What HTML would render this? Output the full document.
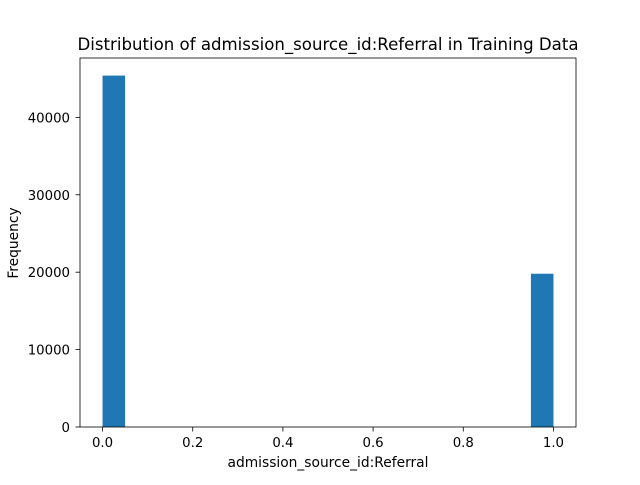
<!DOCTYPE html>
<html><head><meta charset="utf-8"><style>
body{margin:0;background:#fff;}
svg text{font-family:"DejaVu Sans","Liberation Sans",sans-serif;fill:#000;}
</style></head><body>
<svg id="chart" width="640" height="480" xmlns="http://www.w3.org/2000/svg">
<rect width="640" height="480" fill="#fff"/>
<g id="bars"></g>
<g id="axes"></g>
<text x="328" y="50" font-size="16.6" text-anchor="middle">Distribution of admission_source_id:Referral in Training Data</text>
<text x="328" y="467" font-size="13.8" text-anchor="middle">admission_source_id:Referral</text>
<text x="18" y="243" font-size="13.8" text-anchor="middle" transform="rotate(-90 18 243)">Frequency</text>
</svg>
<script>
const binEdgesStart = [0,0.05,0.1,0.15,0.2,0.25,0.3,0.35,0.4,0.45,0.5,0.55,0.6,0.65,0.7,0.75,0.8,0.85,0.9,0.95];
const counts = [45400,0,0,0,0,0,0,0,0,0,0,0,0,0,0,0,0,0,0,19800];
const xTicks = [0,0.2,0.4,0.6,0.8,1.0];
const xTickLabels = ["0.0","0.2","0.4","0.6","0.8","1.0"];
const yTicks = [0,10000,20000,30000,40000];
const binWidth = 0.05;

const L=80,R=576,T=58,B=427;
const xMin=-0.05,xMax=1.05;
const yMax=Math.max(...counts)*1.05;
const xs=v=>L+(v-xMin)/(xMax-xMin)*(R-L);
const ys=v=>B-v/yMax*(B-T);
const NS="http://www.w3.org/2000/svg";
const bars=document.getElementById('bars'), axes=document.getElementById('axes');
function mk(tag,attrs,parent){const e=document.createElementNS(NS,tag);for(const k in attrs)e.setAttribute(k,attrs[k]);parent.appendChild(e);return e;}
counts.forEach((c,i)=>{
  if(c<=0)return;
  const x0=xs(binEdgesStart[i]),x1=xs(binEdgesStart[i]+binWidth);
  const r=mk('rect',{x:x0,y:ys(c),width:x1-x0,height:B-ys(c),fill:'#1f77b4'},bars);
  
  
});
const frame=mk('rect',{x:L,y:T,width:R-L,height:B-T,fill:'none',stroke:'#000','stroke-width':0.8},axes);


xTicks.forEach((v,i)=>{
  const x=xs(v);
  mk('line',{x1:x,x2:x,y1:B,y2:B+4.5,stroke:'#000','stroke-width':0.8},axes);
  const t=mk('text',{x:x,y:B+20,'font-size':13.3,'text-anchor':'middle'},axes);
  t.textContent=xTickLabels[i];
  
  
});
yTicks.forEach(v=>{
  const y=ys(v);
  mk('line',{x1:L-4.5,x2:L,y1:y,y2:y,stroke:'#000','stroke-width':0.8},axes);
  const t=mk('text',{x:L-10,y:y+5,'font-size':13.3,'text-anchor':'end'},axes);
  t.textContent=String(v);
  
  
});
</script>
</body></html>
